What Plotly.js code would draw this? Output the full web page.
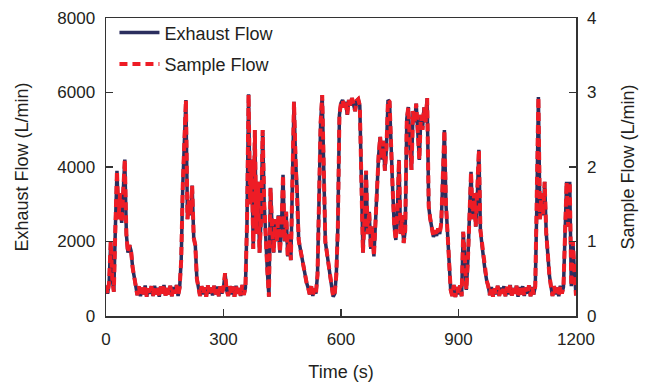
<!DOCTYPE html>
<html>
<head>
<meta charset="utf-8">
<script src="https://cdn.plot.ly/plotly-3.0.1.min.js"></script>
<style>
  html, body { margin: 0; padding: 0; background: #ffffff; }
  #chart { width: 649px; height: 385px; }
</style>
</head>
<body>
<div id="chart"></div>
<script>
// Sampling step of the recorded series (seconds)
const timeStep = 4;

// Exhaust flow (L/min), one value every 4 s from t = 0 to 1200 s
const exhaustFlow = [
  820, 600, 900, 1990, 1000, 650, 2400, 3900, 2600, 3300,
  2500, 3400, 4200, 2200, 1700, 1900, 1750, 1300, 1000, 800,
  560, 800, 530, 760, 580, 820, 520, 740, 600, 800,
  540, 810, 580, 760, 520, 790, 600, 830, 550, 750,
  580, 810, 530, 780, 600, 830, 540, 760, 1500, 3500,
  5000, 5800, 2600, 3100, 2700, 3500, 2100, 1900, 1000, 800,
  540, 800, 580, 770, 520, 820, 600, 760, 550, 810,
  580, 790, 530, 800, 600, 760, 1150, 700, 540, 800,
  580, 790, 520, 810, 600, 750, 540, 830, 570, 760,
  2500, 5950, 3000, 4200, 1800, 4990, 2200, 3600, 1700, 2600,
  4990, 3000, 1800, 1200, 520, 3440, 2400, 1700, 2600, 2000,
  2700, 1700, 2400, 3790, 2000, 2800, 1600, 2200, 1500, 4000,
  5750, 4200, 3380, 2040, 1800, 1550, 1320, 1100, 900, 760,
  580, 800, 540, 740, 600, 1100, 3200, 5200, 5930, 4000,
  2000, 1700, 1350, 1100, 800, 520, 600, 1100, 2400, 5400,
  5720, 5800, 5600, 5750, 5400, 5800, 5650, 5850, 5700, 5500,
  5780, 5820, 5650, 4000, 1700, 2600, 3900, 2200, 2800, 1800,
  2400, 1600, 2500, 3600, 4300, 4810, 4200, 4700, 3900, 4500,
  5800, 5750, 4200, 3380, 2400, 2040, 2800, 4190, 2200, 2700,
  1960, 2300, 5300, 5610, 4600, 3920, 5500, 5200, 5700, 4800,
  4190, 5400, 5000, 5600, 5200, 5850, 2930, 2600, 2400, 2120,
  2300, 2150, 2350, 2200, 2500, 3650, 4990, 3000, 2200, 1320,
  700, 540, 830, 510, 780, 580, 820, 530, 2260, 1600,
  700, 1500, 3000, 3870, 2600, 3300, 2400, 3200, 4460, 2300,
  1900, 1500, 1200, 950, 800, 560, 780, 520, 740, 580,
  810, 540, 760, 600, 800, 530, 780, 580, 830, 550,
  750, 600, 810, 520, 780, 580, 800, 540, 760, 600,
  820, 530, 780, 580, 800, 3000, 5880, 2600, 3300, 2700,
  3600, 2230, 1600, 1100, 800, 540, 800, 580, 760, 530,
  810, 600, 780, 2500, 3600, 2400, 3600, 800, 2000, 1200,
  550
];

// Sample flow (L/min), same time stamps
const sampleFlow = [
  0.41, 0.30, 0.45, 0.995, 0.50, 0.325, 1.20, 1.95, 1.30, 1.65,
  1.25, 1.70, 2.10, 1.10, 0.85, 0.95, 0.875, 0.65, 0.50, 0.40,
  0.28, 0.40, 0.265, 0.38, 0.29, 0.41, 0.26, 0.37, 0.30, 0.40,
  0.27, 0.405, 0.29, 0.38, 0.26, 0.395, 0.30, 0.415, 0.275, 0.375,
  0.29, 0.405, 0.265, 0.39, 0.30, 0.415, 0.27, 0.38, 0.75, 1.75,
  2.50, 2.90, 1.30, 1.55, 1.35, 1.75, 1.05, 0.95, 0.50, 0.40,
  0.27, 0.40, 0.29, 0.385, 0.26, 0.41, 0.30, 0.38, 0.275, 0.405,
  0.29, 0.395, 0.265, 0.40, 0.30, 0.38, 0.575, 0.35, 0.27, 0.40,
  0.29, 0.395, 0.26, 0.405, 0.30, 0.375, 0.27, 0.415, 0.285, 0.38,
  1.25, 2.975, 1.50, 2.10, 0.90, 2.495, 1.10, 1.80, 0.85, 1.30,
  2.495, 1.50, 0.90, 0.60, 0.26, 1.72, 1.20, 0.85, 1.30, 1.00,
  1.35, 0.85, 1.20, 1.895, 1.00, 1.40, 0.80, 1.10, 0.75, 2.00,
  2.875, 2.10, 1.69, 1.02, 0.90, 0.775, 0.66, 0.55, 0.45, 0.38,
  0.29, 0.40, 0.27, 0.37, 0.30, 0.55, 1.60, 2.60, 2.965, 2.00,
  1.00, 0.85, 0.675, 0.55, 0.40, 0.26, 0.30, 0.55, 1.20, 2.70,
  2.86, 2.90, 2.80, 2.875, 2.70, 2.90, 2.825, 2.925, 2.85, 2.75,
  2.89, 2.91, 2.825, 2.00, 0.85, 1.30, 1.95, 1.10, 1.40, 0.90,
  1.20, 0.80, 1.25, 1.80, 2.15, 2.405, 2.10, 2.35, 1.95, 2.25,
  2.90, 2.875, 2.10, 1.69, 1.20, 1.02, 1.40, 2.095, 1.10, 1.35,
  0.98, 1.15, 2.65, 2.805, 2.30, 1.96, 2.75, 2.60, 2.85, 2.40,
  2.095, 2.70, 2.50, 2.80, 2.60, 2.925, 1.465, 1.30, 1.20, 1.06,
  1.15, 1.075, 1.175, 1.10, 1.25, 1.825, 2.495, 1.50, 1.10, 0.66,
  0.35, 0.27, 0.415, 0.255, 0.39, 0.29, 0.41, 0.265, 1.13, 0.80,
  0.35, 0.75, 1.50, 1.935, 1.30, 1.65, 1.20, 1.60, 2.23, 1.15,
  0.95, 0.75, 0.60, 0.475, 0.40, 0.28, 0.39, 0.26, 0.37, 0.29,
  0.405, 0.27, 0.38, 0.30, 0.40, 0.265, 0.39, 0.29, 0.415, 0.275,
  0.375, 0.30, 0.405, 0.26, 0.39, 0.29, 0.40, 0.27, 0.38, 0.30,
  0.41, 0.265, 0.39, 0.29, 0.40, 1.50, 2.94, 1.30, 1.65, 1.35,
  1.80, 1.115, 0.80, 0.55, 0.40, 0.27, 0.40, 0.29, 0.38, 0.265,
  0.405, 0.30, 0.39, 1.25, 1.80, 1.20, 1.80, 0.40, 1.00, 0.60,
  0.275
];

const xTicks = [0, 300, 600, 900, 1200];
const yTicks = [0, 2000, 4000, 6000, 8000];
const y2Ticks = [0, 1, 2, 3, 4];

const timeSec = exhaustFlow.map((_, i) => i * timeStep);

const fontFamily = '"Liberation Sans", Arial, Helvetica, sans-serif';
const axisColor = '#333333';
const textColor = '#231f20';

const traces = [
  {
    x: timeSec, y: exhaustFlow, type: 'scatter', mode: 'lines',
    name: 'Exhaust Flow', legendgroup: 'a', yaxis: 'y',
    line: { color: '#2b2e5e', width: 3.5 }
  },
  {
    x: timeSec, y: sampleFlow, type: 'scatter', mode: 'lines',
    name: 'Sample Flow', legendgroup: 'b', yaxis: 'y2',
    line: { color: '#ee1c25', width: 4, dash: '8px,5px' }
  }
];

const layout = {
  width: 649, height: 385,
  margin: { l: 106, r: 73, t: 18, b: 69 },
  paper_bgcolor: '#ffffff', plot_bgcolor: '#ffffff',
  font: { family: fontFamily, size: 17, color: textColor },
  showlegend: true,
  legend: {
    x: 0.018, y: 1.012, xanchor: 'left', yanchor: 'top',
    bgcolor: 'rgba(255,255,255,0)', borderwidth: 0,
    font: { family: fontFamily, size: 18, color: textColor },
    traceorder: 'grouped', tracegroupgap: 5, itemwidth: 40
  },
  xaxis: {
    range: [0, 1200], tickmode: 'array', tickvals: xTicks, ticktext: xTicks.map(String),
    ticks: 'inside', ticklen: 7, tickwidth: 1.2, tickcolor: axisColor,
    showline: true, linecolor: axisColor, linewidth: 1.5, mirror: true,
    showgrid: false, zeroline: false, ticklabelstandoff: 7,
    tickfont: { family: fontFamily, size: 17, color: textColor },
    title: { text: 'Time (s)', font: { family: fontFamily, size: 18, color: textColor }, standoff: 17 }
  },
  yaxis: {
    range: [0, 8000], tickmode: 'array', tickvals: yTicks, ticktext: yTicks.map(String),
    ticks: 'inside', ticklen: 7, tickwidth: 1.2, tickcolor: axisColor,
    showline: true, linecolor: axisColor, linewidth: 1.5,
    showgrid: false, zeroline: false, ticklabelstandoff: 6,
    tickfont: { family: fontFamily, size: 17, color: textColor },
    title: { text: 'Exhaust Flow (L/min)', font: { family: fontFamily, size: 18, color: textColor }, standoff: 24 }
  },
  yaxis2: {
    range: [0, 4], overlaying: 'y', side: 'right',
    tickmode: 'array', tickvals: y2Ticks, ticktext: y2Ticks.map(String),
    ticks: 'inside', ticklen: 7, tickwidth: 1.2, tickcolor: axisColor,
    showline: true, linecolor: axisColor, linewidth: 1.5,
    showgrid: false, zeroline: false, ticklabelstandoff: 6,
    tickfont: { family: fontFamily, size: 17, color: textColor },
    title: { text: 'Sample Flow (L/min)', font: { family: fontFamily, size: 18, color: textColor }, standoff: 26 }
  }
};

Plotly.newPlot('chart', traces, layout, { displayModeBar: false, staticPlot: true });
</script>
</body>
</html>
